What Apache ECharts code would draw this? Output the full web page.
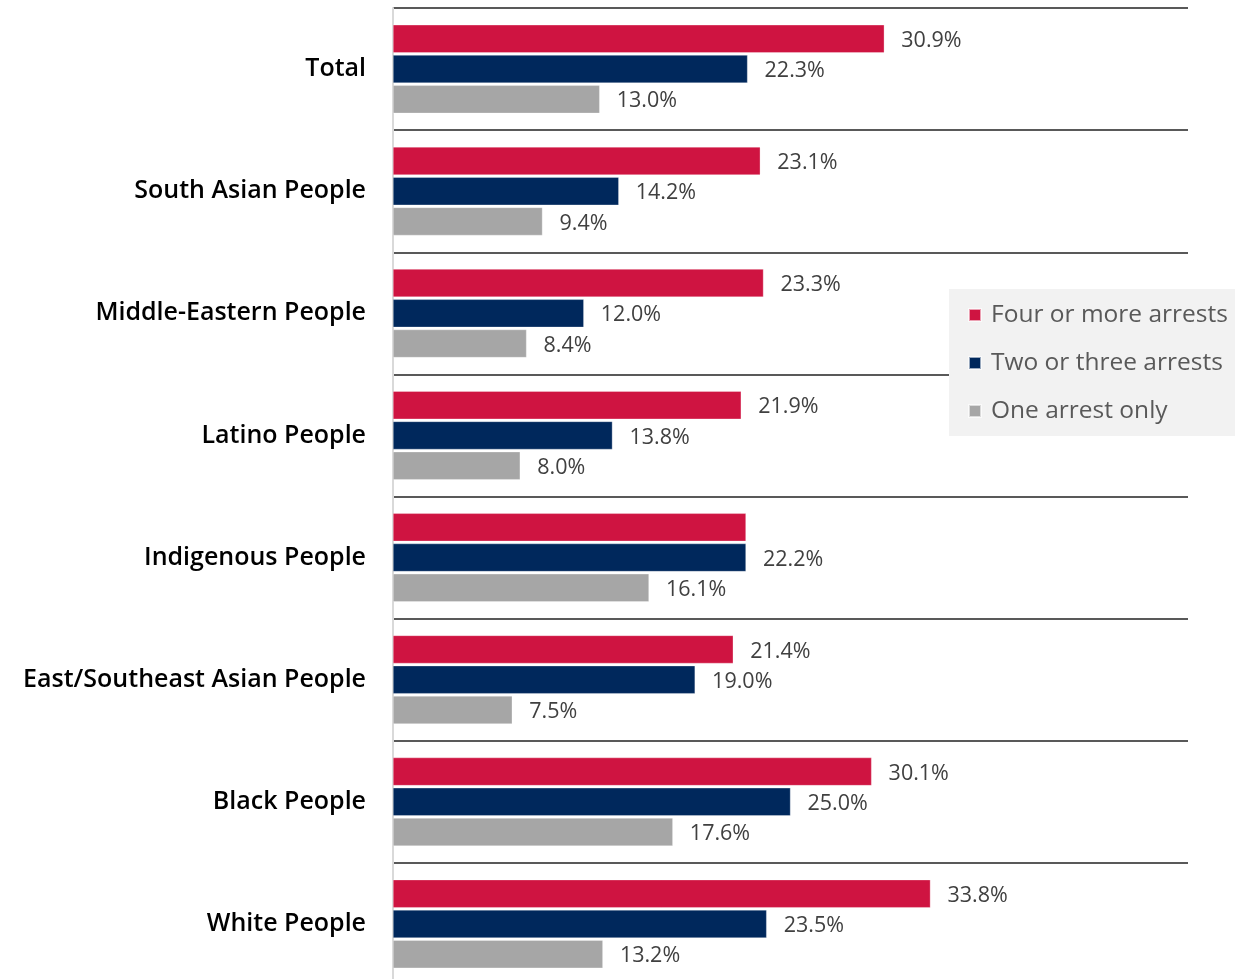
<!DOCTYPE html>
<html>
<head>
<meta charset="utf-8">
<script src="https://cdn.jsdelivr.net/npm/echarts@6/dist/echarts.min.js"></script>
<style>
  html, body { margin: 0; padding: 0; background: #fff; overflow: hidden; }
  #chart { width: 1244px; height: 990px; }
</style>
</head>
<body>
<div id="chart"></div>
<script>
const categories = [
  'Total',
  'South Asian People',
  'Middle-Eastern People',
  'Latino People',
  'Indigenous People',
  'East/Southeast Asian People',
  'Black People',
  'White People'
];
const fourOrMore = [30.9, 23.1, 23.3, 21.9, 22.2, 21.4, 30.1, 33.8];
const twoOrThree = [22.3, 14.2, 12.0, 13.8, 22.2, 19.0, 25.0, 23.5];
const oneOnly = [13.0, 9.4, 8.4, 8.0, 16.1, 7.5, 17.6, 13.2];
const seriesNames = ['Four or more arrests', 'Two or three arrests', 'One arrest only'];
const colors = ['#CF1441', '#00285C', '#A6A6A6'];

const font = '"Open Sans", "Noto Sans", sans-serif';
const chart = echarts.init(document.getElementById('chart'));

const valueLabel = {
  show: true,
  position: 'right',
  distance: 17,
  offset: [0, 2],
  fontFamily: font,
  fontSize: 21.5,
  color: '#404040',
  formatter: p => p.value.toFixed(1) + '%'
};

const makeSeries = (name, data, color, hideIdx) => ({
  name,
  type: 'bar',
  barWidth: 28,
  barGap: '8%',
  itemStyle: { color, borderColor: 'rgba(255,255,255,0.6)', borderWidth: 0.5 },
  label: valueLabel,
  // the picture shows only one label where the first two bars tie
  data: data.map((v, i) => (i === hideIdx ? { value: v, label: { show: false } } : v))
});

chart.setOption({
  animation: false,
  textStyle: { fontFamily: font },
  legend: {
    orient: 'vertical',
    left: 949,
    top: 289,
    backgroundColor: '#F2F2F2',
    padding: [12, 7, 11, 19],
    itemGap: 20,
    itemWidth: 12,
    itemHeight: 12,
    icon: 'rect',
    textStyle: { fontFamily: font, fontSize: 24.5, color: '#595959', lineHeight: 28, padding: [0, 0, 0, 5] },
    data: seriesNames
  },
  grid: { left: 393, right: 56, top: 8, bottom: 5, containLabel: false },
  xAxis: {
    type: 'value',
    min: 0,
    max: 50,
    axisLabel: { show: false },
    axisLine: { show: false },
    axisTick: { show: false },
    splitLine: { show: false }
  },
  yAxis: {
    type: 'category',
    inverse: true,
    data: categories,
    axisLine: { show: true, lineStyle: { color: '#D9D9D9', width: 2 } },
    axisTick: { show: false },
    axisLabel: {
      margin: 27,
      fontFamily: font,
      fontSize: 25,
      fontWeight: 600,
      color: '#000'
    },
    splitLine: { show: true, interval: 0, lineStyle: { color: '#595959', width: 2 } }
  },
  series: [
    makeSeries(seriesNames[0], fourOrMore, colors[0], 4),
    makeSeries(seriesNames[1], twoOrThree, colors[1], -1),
    makeSeries(seriesNames[2], oneOnly, colors[2], -1)
  ]
});
</script>
</body>
</html>
